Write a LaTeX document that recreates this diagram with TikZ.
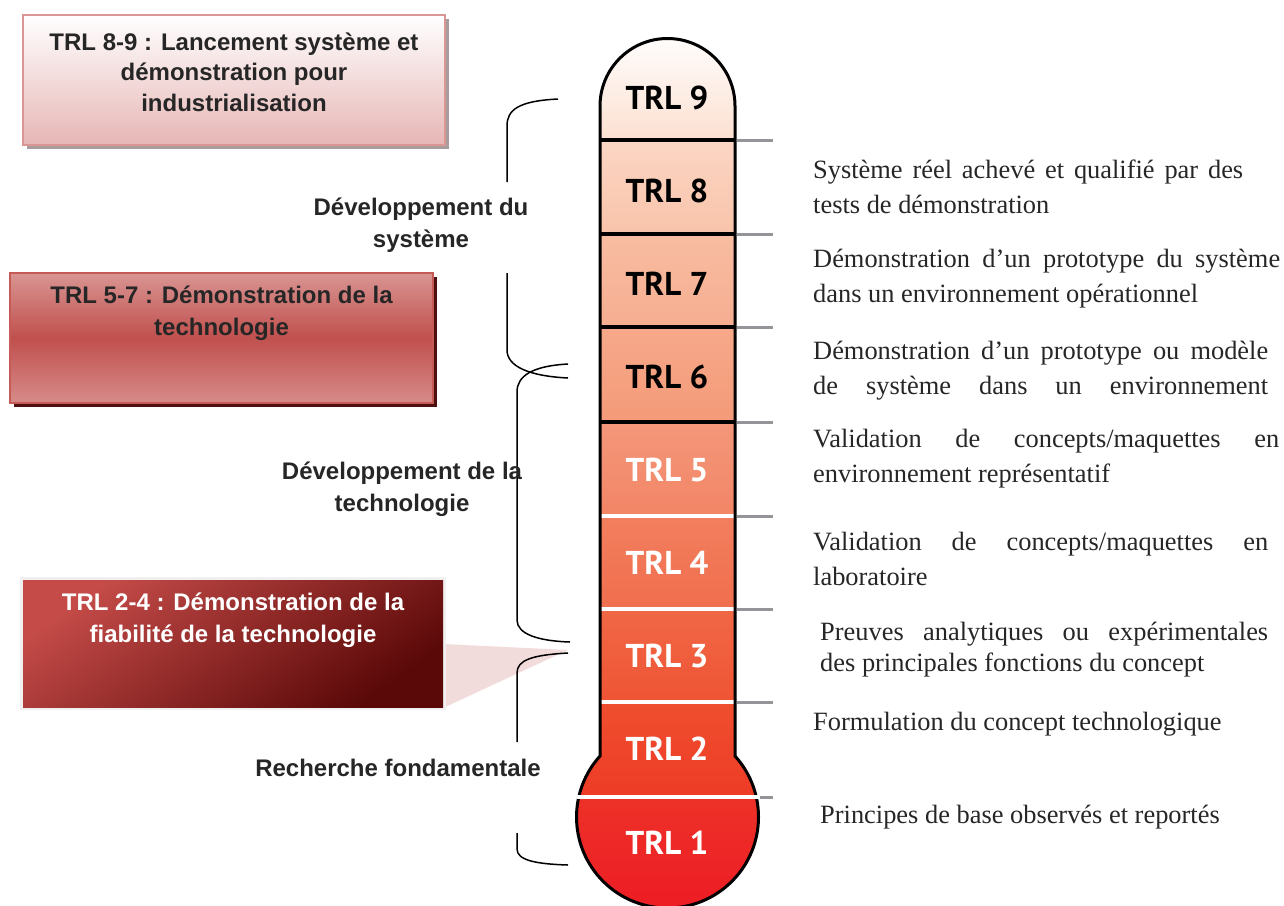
\documentclass[tikz,border=0pt]{standalone}
\usepackage{fontspec}
\setmainfont{Liberation Serif}
\newfontfamily\arialf{Liberation Sans}
\newfontfamily\trlf{PT Sans}
\usetikzlibrary{calc}
\definecolor{tickgray}{HTML}{939598}
\definecolor{boxonetop}{HTML}{FFFFFF}
\definecolor{boxonebot}{HTML}{E6B6B5}
\definecolor{boxoneborder}{HTML}{D99694}
\definecolor{boxoneshadow}{HTML}{A89C9C}
\definecolor{boxtwotop}{HTML}{D99593}
\definecolor{boxtwomid}{HTML}{C0504D}
\definecolor{boxtwobot}{HTML}{D68B8A}
\definecolor{boxtwoborder}{HTML}{C65A57}
\definecolor{boxtwoshadow}{HTML}{4D0F0F}
\definecolor{boxthreetl}{HTML}{C44B48}
\definecolor{boxthreebr}{HTML}{5A0808}
\definecolor{calloutpink}{HTML}{F2DCDB}
\definecolor{darktext}{HTML}{262626}
\newcommand\jline[2]{\hbox to #1{\spaceskip=0.25em plus 1fil\relax #2}}
\begin{document}
\begin{tikzpicture}[x=1pt,y=-1pt,
  trl/.style={font=\trlf\bfseries\fontsize{33}{33}\selectfont, inner sep=0pt},
  trldark/.style={trl, text=black},
  trllight/.style={trl, text=white},
  boxtext/.style={font=\arialf\bfseries\fontsize{24}{32}\selectfont, align=center, inner sep=0pt},
  sidelabel/.style={font=\arialf\bfseries\fontsize{24}{32}\selectfont, align=center, inner sep=0pt, text=darktext},
  desc/.style={font=\fontsize{26.4}{35}\selectfont, anchor=mid west, inner sep=0pt, text=black!85},
  brace/.style={line width=1.5pt, black},
  divdark/.style={line width=4pt, black},
  divlight/.style={line width=4pt, white},
  tick/.style={line width=3pt, tickgray}
]
\useasboundingbox (0,0) rectangle (1284,905);
\clip (0,0) rectangle (1284,905);

% ---------------- left boxes ----------------
% box 1
\fill[boxoneshadow] (27,19) rectangle (449,149);
\node[draw=boxoneborder, line width=2pt, top color=boxonetop, bottom color=boxonebot,
      minimum width=422, minimum height=130, inner sep=0pt] (b1) at (234,80) {};
\node[boxtext, text=darktext, font=\arialf\bfseries\fontsize{24}{30.5}\selectfont] (b1t) at (234,72)
  {TRL 8-9 : Lancement système et\\démonstration pour\\industrialisation};

% box 2
\fill[boxtwoshadow] (14,277) rectangle (437,407);
\node[draw=boxtwoborder, line width=2pt, top color=boxtwotop, bottom color=boxtwobot, middle color=boxtwomid,
      minimum width=423, minimum height=130, inner sep=0pt] (b2) at (221.5,338) {};
\node[boxtext, text=darktext] (b2t) at (221.5,313.5)
  {TRL 5-7 : Démonstration de la\\technologie};

% box 3 with callout
\fill[calloutpink] (443,644) -- (568,650) -- (443,708) -- cycle;
\fill[black!6] (20,577) rectangle (446,710);
\node[top color=boxthreetl, bottom color=boxthreebr, shading angle=35,
      minimum width=420, minimum height=127, inner sep=0pt] (b3) at (233,643.5) {};
\node[boxtext, text=white] (b3t) at (233,620.5)
  {TRL 2-4 : Démonstration de la\\fiabilité de la technologie};

% ---------------- braces ----------------
\draw[brace] (558,99) .. controls (518,101) and (507,110) .. (507,126) -- (507,182);
\draw[brace] (507,273) -- (507,350) .. controls (507,366) and (528,376) .. (568,378);
\draw[brace] (568,364) .. controls (532,366) and (517,376) .. (517,392) -- (517,620)
  .. controls (517,634) and (538,641) .. (570,642);
\draw[brace] (568,653) .. controls (532,655) and (517,660) .. (517,673) -- (517,742);
\draw[brace] (517,833) -- (517,849) .. controls (517,860) and (535,864) .. (568,865);

\node[sidelabel] (l1) at (421,225) {Développement du\\système};
\node[sidelabel] (l2) at (402,489.5) {Développement de la\\technologie};
\node[sidelabel] (l3) at (398,768) {Recherche fondamentale};

% ---------------- thermometer ----------------
\def\thermpath{(600,106) arc[start angle=180,end angle=360,radius=67.5] -- (735,756)
  arc[start angle=-42.12,end angle=222.12,radius=91] -- cycle}
\begin{scope}
  \clip \thermpath;
  \shade[top color=white, bottom color={rgb,255:red,252;green,224;blue,209}] (560,30) rectangle (780,140);
  \shade[top color={rgb,255:red,251;green,214;blue,196}, bottom color={rgb,255:red,249;green,195;blue,170}] (560,140) rectangle (780,234);
  \shade[top color={rgb,255:red,248;green,189;blue,162}, bottom color={rgb,255:red,246;green,173;blue,144}] (560,234) rectangle (780,327);
  \shade[top color={rgb,255:red,246;green,169;blue,138}, bottom color={rgb,255:red,244;green,154;blue,120}] (560,327) rectangle (780,422);
  \shade[top color={rgb,255:red,244;green,151;blue,122}, bottom color={rgb,255:red,242;green,133;blue,102}] (560,422) rectangle (780,516);
  \shade[top color={rgb,255:red,242;green,127;blue,95}, bottom color={rgb,255:red,240;green,110;blue,77}] (560,516) rectangle (780,609);
  \shade[top color={rgb,255:red,240;green,104;blue,71}, bottom color={rgb,255:red,239;green,84;blue,51}] (560,609) rectangle (780,702);
  \shade[top color={rgb,255:red,239;green,79;blue,47}, bottom color={rgb,255:red,238;green,59;blue,38}] (560,702) rectangle (780,797);
  \shade[top color={rgb,255:red,237;green,49;blue,40}, bottom color={rgb,255:red,237;green,28;blue,36}] (560,797) rectangle (780,910);
\end{scope}
\foreach \yy in {140,234,327,422} \draw[divdark] (600,\yy) -- (735,\yy);
\foreach \yy in {516,609,702} \draw[divlight] (600,\yy) -- (735,\yy);
\draw[line width=3pt, black] \thermpath;
\draw[divlight] (577,797) -- (759,797);
\foreach \yy in {140,234,327,422,516,609,702} \draw[tick] (737,\yy) -- (773,\yy);
\draw[tick] (760,797) -- (773,797);

\node[trldark] (t9) at (667,98) {TRL 9};
\node[trldark] (t8) at (667,191) {TRL 8};
\node[trldark] (t7) at (667,284) {TRL 7};
\node[trldark] (t6) at (667,377) {TRL 6};
\node[trllight] (t5) at (667,470) {TRL 5};
\node[trllight] (t4) at (667,563) {TRL 4};
\node[trllight] (t3) at (667,656) {TRL 3};
\node[trllight] (t2) at (667,749) {TRL 2};
\node[trllight] (t1) at (667,843) {TRL 1};

% ---------------- descriptions ----------------
\node[desc] (d9a) at (813,176) {\jline{430pt}{Système réel achevé et qualifié par des}};
\node[desc] (d9b) at (813,211) {tests de démonstration};
\node[desc] (d8a) at (813,265) {\jline{467pt}{Démonstration d’un prototype du système}};
\node[desc] (d8b) at (813,300) {dans un environnement opérationnel};
\node[desc] (d7a) at (813,357) {\jline{455pt}{Démonstration d’un prototype ou modèle}};
\node[desc] (d7b) at (813,392) {\jline{455pt}{de système dans un environnement}};
\node[desc] (d6a) at (813,445) {\jline{466pt}{Validation de concepts/maquettes en}};
\node[desc] (d6b) at (813,480) {environnement représentatif};
\node[desc] (d5a) at (813,548) {\jline{455pt}{Validation de concepts/maquettes en}};
\node[desc] (d5b) at (813,583) {laboratoire};
\node[desc] (d4a) at (820,638) {\jline{448pt}{Preuves analytiques ou expérimentales}};
\node[desc] (d4b) at (820,669) {des principales fonctions du concept};
\node[desc] (d3) at (813,728) {Formulation du concept technologique};
\node[desc] (d2) at (820,821) {Principes de base observés et reportés};
\end{tikzpicture}
\end{document}
